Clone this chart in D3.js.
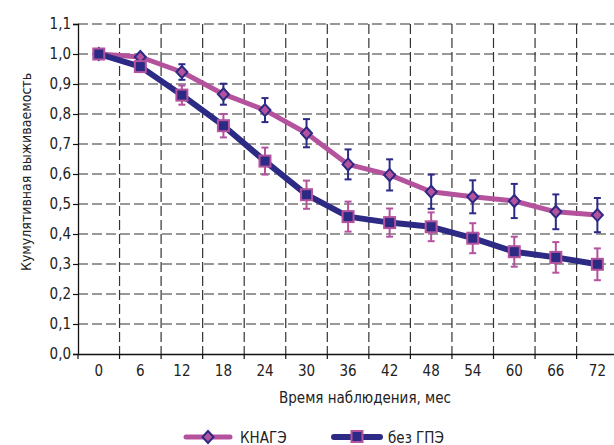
<!DOCTYPE html>
<html><head><meta charset="utf-8">
<script src="https://cdn.jsdelivr.net/npm/d3@7"></script>
<style>
html,body{margin:0;padding:0;background:#fff;}
svg text{font-family:"Liberation Sans Narrow","DejaVu Sans Condensed","Arial Narrow",sans-serif;fill:#222;}
</style></head>
<body><svg id="c" width="614" height="445"></svg>
<script>
const months = ["0","6","12","18","24","30","36","42","48","54","60","66","72"];
const knageValues = [1.0,0.99,0.94,0.866,0.813,0.736,0.632,0.597,0.541,0.524,0.51,0.474,0.463];
const knageErr    = [0.0,0.01,0.026,0.035,0.04,0.047,0.05,0.052,0.057,0.055,0.057,0.058,0.057];
const bezValues   = [1.0,0.958,0.863,0.761,0.643,0.531,0.458,0.438,0.424,0.386,0.341,0.322,0.299];
const bezErr      = [0.0,0.01,0.032,0.039,0.045,0.047,0.05,0.047,0.048,0.05,0.05,0.051,0.053];
const yTicks = [0,0.1,0.2,0.3,0.4,0.5,0.6,0.7,0.8,0.9,1.0,1.1];
const seriesNames = ["КНАГЭ","без ГПЭ"];
const xTitle = "Время наблюдения, мес";
const yTitle = "Кумулятивная выживаемость";

const pink = "#b5529e", navy = "#2c2a85";
const svg = d3.select("#c");
const L = 78, T = 24, B = 354, step = 41.55;
const x = d3.scaleBand().domain(months).range([L, L + step*months.length]).paddingInner(0).paddingOuter(0);
const y = d3.scaleLinear().domain([0,1.1]).range([B,T]);
const cx = d => x(d) + x.bandwidth()/2;
const ff = '"Liberation Sans Narrow","DejaVu Sans Condensed",sans-serif';

// gridlines
const g = svg.append("g");
yTicks.filter(t=>t>0).forEach(t=>{
  g.append("line").attr("x1",L).attr("x2",614).attr("y1",y(t)).attr("y2",y(t))
   .attr("stroke","#333").attr("stroke-width",1.2).attr("stroke-dasharray","10,4");
});
months.slice(1).forEach(m=>{
  g.append("line").attr("x1",x(m)).attr("x2",x(m)).attr("y1",T).attr("y2",B)
   .attr("stroke","#333").attr("stroke-width",1.2).attr("stroke-dasharray","10,4");
});

// axes
const yAxis = d3.axisLeft(y).tickValues(yTicks).tickSize(5).tickFormat(d=>d3.format(".1f")(d).replace(".",","));
const ya = svg.append("g").attr("transform",`translate(${L},0)`).call(yAxis);
ya.select(".domain").attr("stroke","#111").attr("stroke-width",1.3);
ya.selectAll(".tick line").attr("stroke","#111").attr("stroke-width",1.2);
ya.selectAll(".tick text").attr("x",-7).attr("font-size",15).attr("fill","#222").style("font-family",ff);

const xAxis = d3.axisBottom(x).tickSize(0).tickPadding(11);
const xa = svg.append("g").attr("transform",`translate(0,${B})`).call(xAxis);
xa.select(".domain").attr("stroke","#111").attr("stroke-width",1.3);
xa.selectAll(".tick text").attr("font-size",15).attr("fill","#222").style("font-family",ff);
months.forEach(m=>{
  xa.append("line").attr("x1",x(m)).attr("x2",x(m)).attr("y1",0).attr("y2",5).attr("stroke","#111").attr("stroke-width",1.2);
});

// titles
svg.append("text").attr("x",365).attr("y",403).attr("text-anchor","middle").attr("font-size",15).text(xTitle);
svg.append("text").attr("transform","translate(31,172) rotate(-90)").attr("text-anchor","middle").attr("font-size",14).text(yTitle);

function drawSeries(vals, errs, lineColor, lineW, markerFill, markerStroke, errColor, shape){
  const gg = svg.append("g");
  const line = d3.line().x((d,i)=>cx(months[i])).y(d=>y(d));
  gg.append("path").datum(vals).attr("d",line).attr("fill","none").attr("stroke",lineColor)
    .attr("stroke-width",lineW).attr("stroke-linejoin","round");
  vals.forEach((v,i)=>{
    const e = errs[i]; if(e<=0) return;
    const px = cx(months[i]);
    gg.append("line").attr("x1",px).attr("x2",px).attr("y1",y(v+e)).attr("y2",y(v-e)).attr("stroke",errColor).attr("stroke-width",2);
    [v+e,v-e].forEach(w=>gg.append("line").attr("x1",px-3.5).attr("x2",px+3.5).attr("y1",y(w)).attr("y2",y(w)).attr("stroke",errColor).attr("stroke-width",2));
  });
  vals.forEach((v,i)=>{
    const px = cx(months[i]), py = y(v);
    if(shape==="diamond"){
      gg.append("path").attr("d",`M${px},${py-6}L${px+5.5},${py}L${px},${py+6}L${px-5.5},${py}Z`)
        .attr("fill",markerFill).attr("stroke",markerStroke).attr("stroke-width",2);
    } else {
      gg.append("rect").attr("x",px-5.5).attr("y",py-5.5).attr("width",11).attr("height",11)
        .attr("fill",markerFill).attr("stroke",markerStroke).attr("stroke-width",2);
    }
  });
}
drawSeries(knageValues, knageErr, pink, 5, pink, navy, navy, "diamond");
drawSeries(bezValues, bezErr, navy, 6, navy, pink, pink, "square");

// legend
const lg = svg.append("g");
lg.append("line").attr("x1",186).attr("x2",230).attr("y1",437).attr("y2",437).attr("stroke",pink).attr("stroke-width",5).attr("stroke-linecap","round");
lg.append("path").attr("d","M208,431L213.5,437L208,443L202.5,437Z").attr("fill",pink).attr("stroke",navy).attr("stroke-width",2);
lg.append("text").attr("x",240).attr("y",442.5).attr("font-size",15).text(seriesNames[0]);
lg.append("line").attr("x1",334).attr("x2",380).attr("y1",437).attr("y2",437).attr("stroke",navy).attr("stroke-width",6).attr("stroke-linecap","round");
lg.append("rect").attr("x",351.5).attr("y",431).attr("width",11).attr("height",11).attr("fill",navy).attr("stroke",pink).attr("stroke-width",2);
lg.append("text").attr("x",388).attr("y",442.5).attr("font-size",15).text(seriesNames[1]);
</script></body></html>
